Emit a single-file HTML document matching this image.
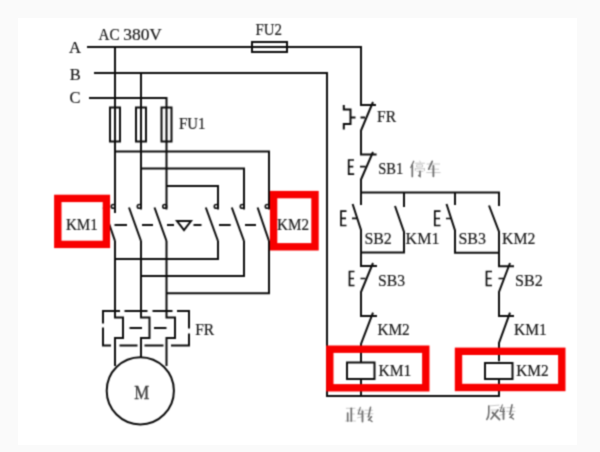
<!DOCTYPE html>
<html><head><meta charset="utf-8">
<style>
html,body{margin:0;padding:0;background:#fafafa;width:600px;height:452px;overflow:hidden}
svg{position:absolute;left:0;top:0;}
text{font-family:"Liberation Serif",serif;fill:#181818;font-size:17.5px;stroke:#181818;stroke-width:0.2px}
</style></head>
<body>
<svg width="600" height="452" viewBox="0 0 600 452"><defs><filter id="bl" x="0" y="0" width="1" height="1" color-interpolation-filters="sRGB"><feConvolveMatrix order="3" kernelMatrix="0.0400 0.1200 0.0400 0.1200 0.3600 0.1200 0.0400 0.1200 0.0400" divisor="1" edgeMode="duplicate"/></filter></defs><g filter="url(#bl)">
<rect x="18.5" y="18" width="558.5" height="427" fill="#fff"/>
<g fill="none" stroke="#0c0c0c" stroke-width="2" stroke-linecap="butt" stroke-linejoin="miter">
<!-- phase lines -->
<path d="M87,47 H361 V105 H376"/>
<path d="M94,73 H327 V396 H499 V379.5"/>
<path d="M89,98 H166.5 V209.5"/>
<path d="M115,47 V213"/>
<path d="M141,73 V209.5"/>
<!-- fuses FU1 -->
<rect x="110" y="107.5" width="10" height="34" fill="none"/>
<rect x="136" y="107.5" width="10" height="34"/>
<rect x="161.5" y="107.5" width="10" height="34"/>
<!-- FU2 -->
<rect x="252" y="42" width="35" height="10"/>
<!-- upper wiring to KM2 -->
<path d="M115,151.5 H269 V209.5"/>
<path d="M141,168.5 H244 V209.5"/>
<path d="M166.5,186 H218 V209.5"/>
<!-- terminal circles -->
<circle cx="113.2" cy="206.4" r="1.9" stroke-width="1.6"/>
<circle cx="139.2" cy="206.4" r="1.9" stroke-width="1.6"/>
<circle cx="164.7" cy="206.4" r="1.9" stroke-width="1.6"/>
<circle cx="216.2" cy="206.4" r="1.9" stroke-width="1.6"/>
<circle cx="242.2" cy="206.4" r="1.9" stroke-width="1.6"/>
<circle cx="267.2" cy="206.4" r="1.9" stroke-width="1.6"/>
<!-- blades -->
<path d="M103.5,207.5 L115,241"/>
<path d="M129,207.5 L141,241"/>
<path d="M154.5,207.5 L166.5,241"/>
<path d="M205.8,207.5 L218,241"/>
<path d="M231.8,207.5 L244,241"/>
<path d="M257.6,207.5 L269,241"/>
<!-- interlock dashes -->
<path d="M114.5,225 H127 M142,225 H153 M167,225 H174 M193.5,225 H201.5 M219,225 H230.7 M245,225 H256"/>
<path d="M177,221 H191 L184,230 Z"/>
<!-- lower wiring -->
<path d="M115,241 V317.5 H123 V338 H115 V366"/>
<path d="M141,241 V317.5 H149.5 V338 H141 V357.5"/>
<path d="M166.5,241 V317.5 H175 V338 H166.5 V366"/>
<path d="M218,241 V259 H115"/>
<path d="M244,241 V276 H141"/>
<path d="M269,241 V293.3 H166.5"/>
<!-- FR dashed box -->
<path d="M120,311 H103 V323.5 M103,327.5 V345.5 H111 M119.5,345.5 H137.5 M144.5,345.5 H163.5 M171,345.5 H189 V333.5 M189,328.5 V311 H177 M172.5,311 H152.5 M147.5,311 H124.5"/>
<path d="M129.5,328 H142 M154,328 H166.5"/>
<!-- motor -->
<circle cx="140.3" cy="390.8" r="33.6"/>
<!-- right control -->
<path d="M373,102 L361,130.5 V154.4 H376.6"/>
<path d="M373,152 L361,179.5 V192.6 H499 V206"/>
<path d="M361,192.6 V205 M352.6,204 L361,230 V252.5 H404 V232 L395,206 M404,192.6 V207"/>
<path d="M455,192.6 V205 M446.5,204 L455,230.5 V252.7 H499 V231.7 L489,205.5"/>
<path d="M361,252.5 V266 H377 M373,263 L361,292 V316 H377 M373,312.7 L361,344 V362 M361,379.3 V396"/>
<path d="M499,252.7 V266.3 H514 M510,263 L499,292 V316 H514 M510,312.7 L499,343 V361.3 M499,379.5 V396"/>
<rect x="347" y="362.5" width="27.5" height="16.5"/>
<rect x="485" y="363" width="27.5" height="16"/>
<!-- FR thermal symbol top -->
<path d="M343.8,105 V109.5 H350.5 V124 H343.8 V129.5"/>
<path d="M351,117.5 H355.5 M360.5,117.5 H365"/>
<!-- E pushbuttons -->
<path stroke-width="1.7" d="M354,160 H348.7 V174.2 H354.2 M348.7,166.7 H353.3 M360,166.7 H365.7"/>
<path stroke-width="1.7" d="M346.5,211.2 H341 V225.5 H346.5 M341,218.3 H346 M352,218.3 H357"/>
<path stroke-width="1.7" d="M440.5,211.2 H434.8 V225.5 H440.5 M434.8,218.5 H440 M446,218.5 H451"/>
<path stroke-width="1.7" d="M354.5,271.5 H349.5 V285.5 H354.5 M349.5,278.5 H354 M360.5,278.5 H365.5"/>
<path stroke-width="1.7" d="M492,271.5 H486.5 V285.5 H492 M486.5,278.5 H491.5 M498.5,278.5 H503.5"/>
</g>
<!-- labels -->
<text x="69" y="52.9" textLength="12" lengthAdjust="spacingAndGlyphs">A</text>
<text x="69.7" y="79.8" textLength="11" lengthAdjust="spacingAndGlyphs">B</text>
<text x="69.5" y="103.3" textLength="11" lengthAdjust="spacingAndGlyphs">C</text>
<text x="98.5" y="40.3" textLength="21" lengthAdjust="spacingAndGlyphs">AC</text><text x="123.3" y="40.3" textLength="26.2" lengthAdjust="spacingAndGlyphs">380</text><text x="149.4" y="40.3" textLength="12.2" lengthAdjust="spacingAndGlyphs">V</text>
<text x="255.5" y="34.8" textLength="26.5" lengthAdjust="spacingAndGlyphs">FU2</text>
<text x="179" y="129.3" textLength="26.4" lengthAdjust="spacingAndGlyphs">FU1</text>
<text x="377" y="122.3" textLength="19" lengthAdjust="spacingAndGlyphs">FR</text>
<text x="378.2" y="173.7" textLength="25" lengthAdjust="spacingAndGlyphs">SB1</text>
<text x="364.4" y="244.3" textLength="27.4" lengthAdjust="spacingAndGlyphs">SB2</text>
<text x="405.6" y="244.3" textLength="33.8" lengthAdjust="spacingAndGlyphs">KM1</text>
<text x="458.4" y="244.3" textLength="27.5" lengthAdjust="spacingAndGlyphs">SB3</text>
<text x="502" y="244.3" textLength="33.3" lengthAdjust="spacingAndGlyphs">KM2</text>
<text x="378" y="285.7" textLength="27" lengthAdjust="spacingAndGlyphs">SB3</text>
<text x="377.4" y="334.9" textLength="32.4" lengthAdjust="spacingAndGlyphs">KM2</text>
<text x="515" y="285.5" textLength="27.7" lengthAdjust="spacingAndGlyphs">SB2</text>
<text x="514" y="334.9" textLength="32.8" lengthAdjust="spacingAndGlyphs">KM1</text>
<text x="378.5" y="375.5" textLength="32.8" lengthAdjust="spacingAndGlyphs">KM1</text>
<text x="516.2" y="375.5" textLength="32.5" lengthAdjust="spacingAndGlyphs">KM2</text>
<text x="65.9" y="230.3" textLength="31.8" lengthAdjust="spacingAndGlyphs">KM1</text>
<text x="277.1" y="229.9" textLength="31.9" lengthAdjust="spacingAndGlyphs">KM2</text>
<text x="195.2" y="335.3" textLength="19" lengthAdjust="spacingAndGlyphs">FR</text>
<text x="134.2" y="399" textLength="15" lengthAdjust="spacingAndGlyphs" style="fill:#3a3a3a;stroke:#3a3a3a;stroke-width:0.3px;font-size:19px">M</text>
<!-- CJK approximations -->
<g fill="none" stroke="#6e6e6e" stroke-linecap="round">
<!-- 停 -->
<g transform="translate(410.5,161)">
<path d="M3.2,0.3 L0.3,6.5" stroke-width="1.3"/>
<path d="M1.8,4 V15.5" stroke-width="1.7"/>
<path d="M9.3,0 L9.8,1.5 M4.8,2.2 H14 M6.5,3.8 H12 V6 H6.5 Z M4.8,7.8 H14 M4.8,7.8 V9.5 M14,7.8 V9.5 M6.5,10.3 H12.5" stroke-width="0.7" stroke="#b0b0b0"/>
<path d="M9.5,10.3 V15.3 L8.3,14.5" stroke-width="1.6"/>
</g>
<!-- 车 -->
<g transform="translate(426.2,161)">
<path d="M0.8,3 H13.5 M3,8.2 H12.5 M0.5,11.6 H14" stroke-width="0.7" stroke="#b0b0b0"/>
<path d="M6,0.3 L2.5,8.2" stroke-width="1.7"/>
<path d="M7.2,4.8 V15.3" stroke-width="1.8"/>
</g>
<!-- 正 -->
<g transform="translate(345.5,407)">
<path d="M0.8,1.3 H9.5 M5.5,7 H9 M0,14 H10" stroke-width="0.7" stroke="#b0b0b0"/>
<path d="M5.8,1.3 V14" stroke-width="1.7"/>
<path d="M2.2,6 V14" stroke-width="1.7"/>
</g>
<!-- 转 -->
<g transform="translate(357,407)">
<path d="M0.5,3 H6 M0.5,10.8 L6,9.5 M8,3.2 H15.5 M7.5,6.8 H16 M10,9.8 H14.5" stroke-width="0.7" stroke="#b0b0b0"/>
<path d="M3.3,0.3 L1.2,7 H5.5" stroke-width="1.1"/>
<path d="M5.5,4.3 V14.5" stroke-width="1.8"/>
<path d="M13.5,0.3 L11.5,9.8 M14.5,9.8 L11.5,13" stroke-width="1.6"/>
<path d="M12.2,12.5 L15,14.5" stroke-width="1.5"/>
</g>
<!-- 反 -->
<g transform="translate(486.5,404.5)">
<path d="M2.5,1.5 L12.5,0.6 M4.5,5.5 H11.5" stroke-width="0.7" stroke="#b0b0b0"/>
<path d="M2.3,1.5 V8 Q2.3,12.5 0.3,15" stroke-width="1.6"/>
<path d="M11.5,5.5 L4.5,14.5" stroke-width="1.6"/>
<path d="M6,8 L13,15" stroke-width="1.8"/>
</g>
<!-- 转 -->
<g transform="translate(499,404.5)">
<path d="M0.5,3 H6 M0.5,10.8 L6,9.5 M8,3.2 H15.5 M7.5,6.8 H16 M10,9.8 H14.5" stroke-width="0.7" stroke="#b0b0b0"/>
<path d="M3.3,0.3 L1.2,7 H5.5" stroke-width="1.1"/>
<path d="M4.5,4.3 V14.5" stroke-width="1.8"/>
<path d="M13,0.3 L11,9.8 M14,9.8 L11,13" stroke-width="1.6"/>
<path d="M11.7,12.5 L14.5,14.5" stroke-width="1.5"/>
</g>
</g>
<!-- red boxes -->
<g fill="none" stroke="#f80000" stroke-width="7.4">
<rect x="57.8" y="198.4" width="48.6" height="46"/>
<rect x="273.6" y="194.6" width="41.4" height="52.2"/>
<rect x="329.8" y="349.2" width="96" height="38.6"/>
<rect x="458.5" y="351.3" width="103.3" height="36.2"/>
</g>
</g></svg>
</body></html>
